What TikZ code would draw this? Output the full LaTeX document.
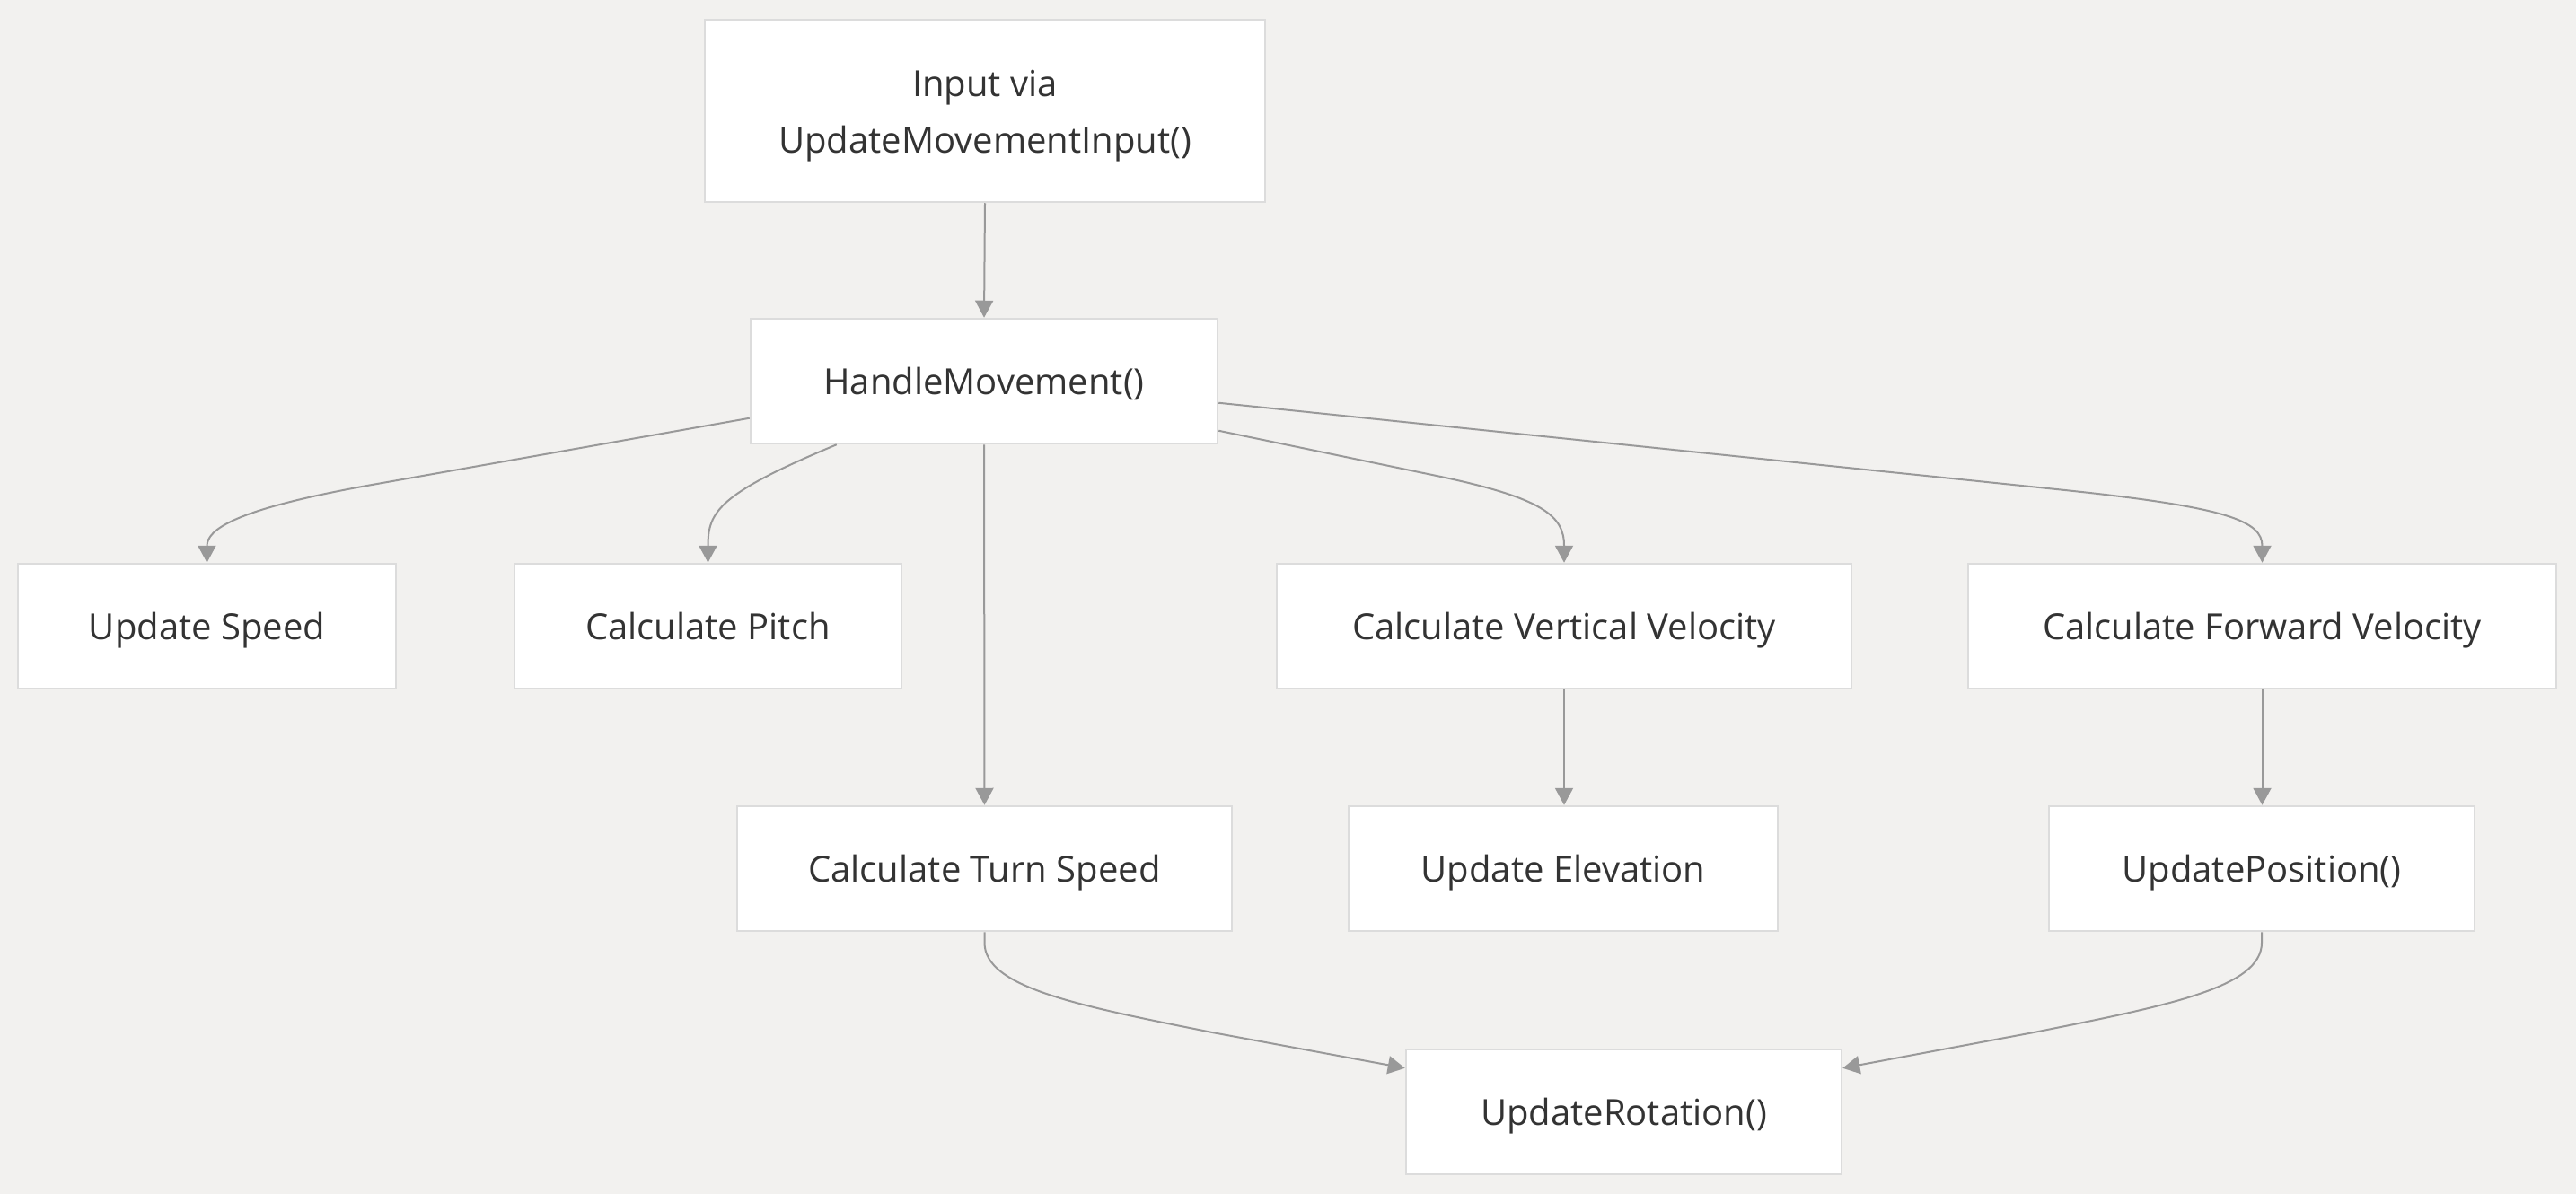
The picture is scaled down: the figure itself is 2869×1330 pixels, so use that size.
\documentclass[tikz,border=0pt]{standalone}
\usepackage{fontspec}
\setmainfont{Open Sans}
\usetikzlibrary{arrows.meta}
\definecolor{bg}{HTML}{F2F1EF}
\definecolor{boxline}{HTML}{DCDCDC}
\definecolor{edge}{HTML}{999999}
\definecolor{txt}{HTML}{333333}
\tikzset{
  box/.style={draw=boxline, line width=2.5pt, fill=white, inner sep=0pt,
    text=txt, align=center, font=\fontsize{40}{63}\selectfont},
  onebox/.style={box, text height=35pt, text depth=5pt, minimum height=139pt},
  conn/.style={draw=edge, line width=2pt, -{Triangle[length=19pt,width=20pt]}},
}
\begin{document}
\begin{tikzpicture}[x=1pt,y=-1pt]
\fill[bg] (0,0) rectangle (2869,1330);
\useasboundingbox (0,0) rectangle (2869,1330);

\node[box, minimum width=624pt, minimum height=203pt, text height=98pt, text depth=4pt] (in) at (1097,123.5) {Input via\\UpdateMovementInput()};
\node[onebox, minimum width=520pt] (hm) at (1096,424.5) {HandleMovement()};
\node[onebox, minimum width=421pt] (us) at (230.5,697.5) {Update Speed};
\node[onebox, minimum width=431pt] (cp) at (788.5,697.5) {Calculate Pitch};
\node[onebox, minimum width=640pt] (cvv) at (1742,697.5) {Calculate Vertical Velocity};
\node[onebox, minimum width=655pt] (cfv) at (2519.5,697.5) {Calculate Forward Velocity};
\node[onebox, minimum width=551pt] (cts) at (1096.5,967.5) {Calculate Turn Speed};
\node[onebox, minimum width=478pt] (ue) at (1741,967.5) {Update Elevation};
\node[onebox, minimum width=474pt] (up) at (2519,967.5) {UpdatePosition()};
\node[onebox, minimum width=485pt] (ur) at (1808.5,1238.5) {UpdateRotation()};

\draw[conn] (in.south) -- (hm.north);
\draw[conn] ([yshift=-112pt]hm.north west) -- (420,539) .. controls (260,567) and (230.5,590) .. (us.north);
\draw[conn] ([xshift=97pt]hm.south west) .. controls (800,550) and (788.5,570) .. (cp.north);
\draw[conn] (hm.south) -- (cts.north);
\draw[conn] ([yshift=-126pt]hm.north east) -- (1600,530) .. controls (1720,555) and (1742,575) .. (cvv.north);
\draw[conn] ([yshift=-95pt]hm.north east) -- (2300,546) .. controls (2480,565) and (2519.5,580) .. (cfv.north);
\draw[conn] (cvv.south) -- (cvv.south |- ue.north);
\draw[conn] (cfv.south) -- (cfv.south |- up.north);
\draw[conn] (cts.south) -- (1096.5,1050) .. controls (1096.5,1100) and (1200,1120) .. (1350,1150) -- ([yshift=-22pt]ur.north west);
\draw[conn] (up.south) -- (2519,1050) .. controls (2519,1100) and (2415,1120) .. (2265,1150) -- ([yshift=-22pt]ur.north east);
\end{tikzpicture}
\end{document}
